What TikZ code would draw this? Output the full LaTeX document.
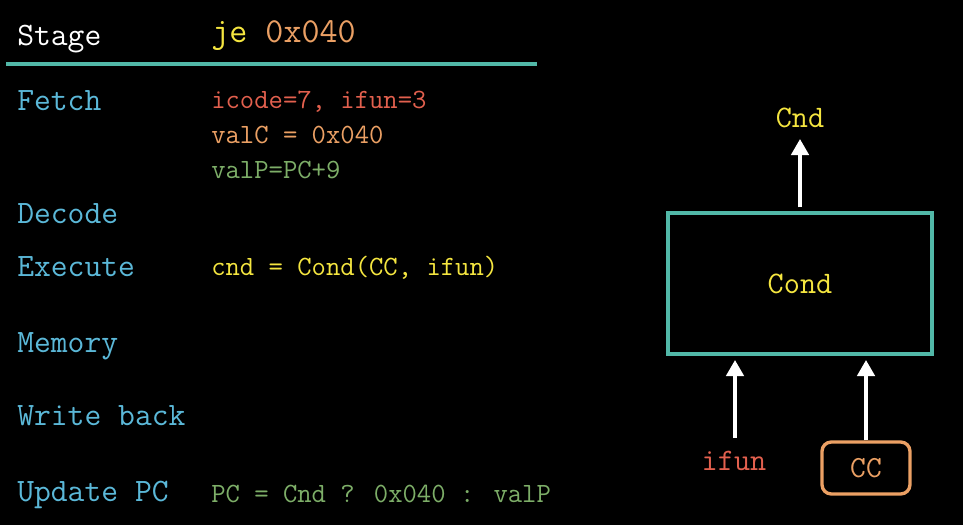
\documentclass[tikz,border=0pt]{standalone}
\usetikzlibrary{arrows.meta}
\definecolor{stagecol}{HTML}{5BB8D8}
\definecolor{tealc}{HTML}{52B8A8}
\definecolor{redc}{HTML}{E2604E}
\definecolor{orangec}{HTML}{EBA064}
\definecolor{greenc}{HTML}{7DAE68}
\definecolor{yellowc}{HTML}{F5E640}
\begin{document}
\begin{tikzpicture}[x=0.75pt,y=-0.75pt,
  stagelbl/.style={anchor=base west,inner sep=0pt,text=stagecol,font=\ttfamily\fontsize{24.5}{28}\selectfont},
  codelbl/.style={anchor=base west,inner sep=0pt,font=\ttfamily\fontsize{20.9}{24}\selectfont},
  biglbl/.style={inner sep=0pt,font=\ttfamily\fontsize{23.5}{26}\selectfont},
  arr/.style={draw=white,line width=2.6pt,-{Triangle[width=13pt,length=12pt]}}]
\fill[black] (0,0) rectangle (963,525);
\useasboundingbox (0,0) rectangle (963,525);
% header
\node[stagelbl,text=white] (stage) at (17,45) {Stage};
\node[anchor=base west,inner sep=0pt,font=\ttfamily\fontsize{26.3}{30}\selectfont] (instr) at (211,42) {\textcolor{yellowc}{je} \textcolor{orangec}{0x040}};
\draw[tealc,line width=2.5pt] (6,64) -- (537,64);
% stages
\node[stagelbl] (fetch) at (17,110) {Fetch};
\node[stagelbl] (decode) at (17,223) {Decode};
\node[stagelbl] (execute) at (17,276) {Execute};
\node[stagelbl] (memory) at (17,352) {Memory};
\node[stagelbl] (writeback) at (17,425) {Write back};
\node[stagelbl] (updatepc) at (17,501) {Update PC};
% code
\node[codelbl,text=redc] (f1) at (211,108) {icode=7, ifun=3};
\node[codelbl,text=orangec] (f2) at (211,143) {valC = 0x040};
\node[codelbl,text=greenc] (f3) at (211,178) {valP=PC+9};
\node[codelbl,text=yellowc] (e1) at (211,275) {cnd = Cond(CC, ifun)};
\node[codelbl,text=greenc] (u1) at (211,502) {PC = Cnd ? 0x040 :  valP};
% diagram
\node[draw=tealc,line width=2.5pt,minimum width=198pt,minimum height=105.75pt,inner sep=0pt,text=yellowc,font=\ttfamily\fontsize{23.5}{26}\selectfont] (condbox) at (800,283.5) {Cond};
\coordinate (boxbotL) at (735,360);
\coordinate (boxbotR) at (866,360);
\node[biglbl,text=yellowc] (cnd) at (800,118) {Cnd};
\node[biglbl,text=redc] (ifun) at (734,461) {ifun};
\node[draw=orangec,line width=2.5pt,rounded corners=7pt,minimum width=66pt,minimum height=39pt,inner sep=0pt,text=orangec,font=\ttfamily\fontsize{23}{26}\selectfont] (cc) at (866,468) {CC};
\coordinate (cntop) at (800,139);
\coordinate (ifuntop) at (735,438);
\coordinate (cctop) at (866,437);
\draw[arr] ([yshift=3pt]condbox.north) -- (cntop);
\draw[arr] (ifuntop) -- (boxbotL);
\draw[arr] (cc.north) -- (boxbotR);
\end{tikzpicture}
\end{document}
